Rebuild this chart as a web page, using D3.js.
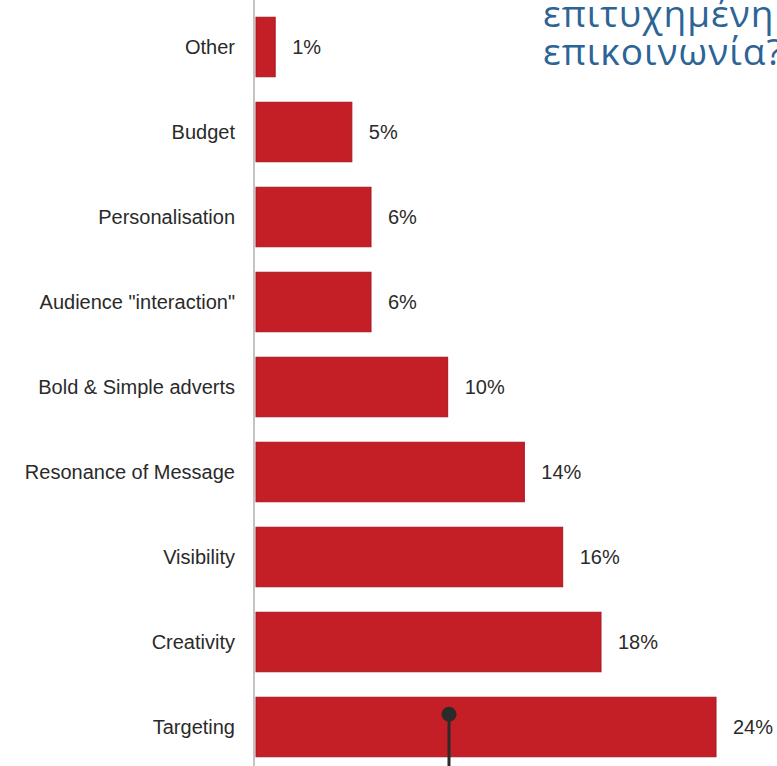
<!DOCTYPE html>
<html>
<head>
<meta charset="utf-8">
<script src="https://cdn.jsdelivr.net/npm/d3@7"></script>
<style>
  body { margin: 0; background: #fff; }
  svg { display: block; }
</style>
</head>
<body>
<div id="chart"></div>
<script>
// categories top to bottom and their share in %
const categories = ["Other", "Budget", "Personalisation", "Audience \"interaction\"",
  "Bold & Simple adverts", "Resonance of Message", "Visibility", "Creativity", "Targeting"];
const values = [1, 5, 6, 6, 10, 14, 16, 18, 24];
const titleLines = ["επιτυχημένη", "επικοινωνία?"];

const width = 777;
const height = 766;

const svg = d3.select("#chart")
  .append("svg")
  .attr("width", width)
  .attr("height", height);

const x = d3.scaleLinear().domain([0, 24]).range([256, 716]);
const y = d3.scaleBand().domain(categories).range([4.5, 769.5]).paddingInner(0.3).paddingOuter(0.15);

// vertical axis line
svg.append("line")
  .attr("x1", 254).attr("x2", 254)
  .attr("y1", 0).attr("y2", height)
  .attr("stroke", "#c4c4c4")
  .attr("stroke-width", 2);

const data = categories.map(function(c, i) { return { name: c, value: values[i] }; });

svg.selectAll("rect.bar")
  .data(data)
  .enter()
  .append("rect")
    .attr("class", "bar")
    .attr("x", x(0))
    .attr("y", function(d) { return y(d.name); })
    .attr("width", function(d) { return x(d.value) - x(0); })
    .attr("height", y.bandwidth())
    .attr("fill", "#c41e26")
    .attr("stroke", "#a8161e")
    .attr("stroke-width", 1);

// category labels
svg.selectAll("text.cat")
  .data(data)
  .enter()
  .append("text")
    .attr("class", "cat")
    .attr("x", 235)
    .attr("y", function(d) { return y(d.name) + y.bandwidth() / 2; })
    .attr("dy", "0.35em")
    .attr("text-anchor", "end")
    .attr("font-family", "Liberation Sans, Arial, sans-serif")
    .attr("font-size", 20)
    .attr("fill", "#2a2a2a")
    .text(function(d) { return d.name; });

// value labels
svg.selectAll("text.val")
  .data(data)
  .enter()
  .append("text")
    .attr("class", "val")
    .attr("x", function(d) { return x(d.value) + 17; })
    .attr("y", function(d) { return y(d.name) + y.bandwidth() / 2; })
    .attr("dy", "0.35em")
    .attr("font-family", "Liberation Sans, Arial, sans-serif")
    .attr("font-size", 20)
    .attr("fill", "#2a2a2a")
    .text(function(d) { return d.value + "%"; });

// greek title, cut by the right edge like in the source
svg.selectAll("text.title")
  .data(titleLines)
  .enter()
  .append("text")
    .attr("class", "title")
    .attr("x", 543)
    .attr("y", function(d, i) { return 27 + i * 38; })
    .attr("font-family", "Open Sans, Noto Sans, sans-serif")
    .attr("font-size", 37)
    .attr("letter-spacing", 1)
    .attr("fill", "#2d6496")
    .text(function(d) { return d; });

// pointer marker
const last = data[data.length - 1];
const py = y(last.name) + 17;
svg.append("line")
  .attr("x1", 449).attr("x2", 449)
  .attr("y1", py).attr("y2", height)
  .attr("stroke", "#2b2b2b")
  .attr("stroke-width", 3);
svg.append("circle")
  .attr("cx", 449).attr("cy", py)
  .attr("r", 7.5)
  .attr("fill", "#2b2b2b");
</script>
</body>
</html>
